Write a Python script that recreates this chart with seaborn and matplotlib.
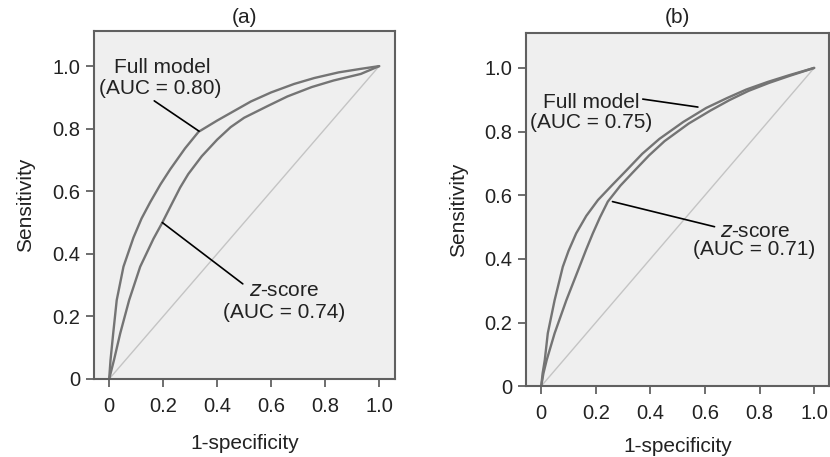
import numpy as np
import pandas as pd
import matplotlib
matplotlib.use("Agg")
import matplotlib.pyplot as plt
import seaborn as sns

sns.set_theme(style="white")
plt.rcParams['font.family'] = ['Liberation Sans', 'DejaVu Sans']

# Panel (a)
a_full_x = [0, 0.005, 0.015, 0.028, 0.053, 0.09, 0.12, 0.152, 0.19, 0.226, 0.281, 0.331,
            0.4, 0.525, 0.6, 0.685, 0.76, 0.85, 0.93, 1.0]
a_full_y = [0, 0.06, 0.146, 0.252, 0.359, 0.452, 0.513, 0.565, 0.622, 0.67, 0.737, 0.79,
            0.826, 0.887, 0.916, 0.943, 0.962, 0.98, 0.991, 1.0]
a_z_x = [0, 0.018, 0.041, 0.074, 0.115, 0.164, 0.197, 0.231, 0.263, 0.293, 0.343,
         0.4, 0.45, 0.5, 0.586, 0.66, 0.75, 0.831, 0.932, 1.0]
a_z_y = [0, 0.061, 0.146, 0.252, 0.359, 0.448, 0.50, 0.558, 0.612, 0.655, 0.712,
         0.765, 0.805, 0.835, 0.872, 0.903, 0.933, 0.954, 0.975, 1.0]

# Panel (b)
b_full_x = [0, 0.005, 0.013, 0.024, 0.049, 0.079, 0.1, 0.128, 0.165, 0.208, 0.26, 0.311,
            0.37, 0.433, 0.52, 0.604, 0.68, 0.751, 0.83, 0.908, 1.0]
b_full_y = [0, 0.04, 0.082, 0.166, 0.27, 0.375, 0.425, 0.48, 0.535, 0.585, 0.632, 0.677,
            0.73, 0.777, 0.83, 0.874, 0.905, 0.932, 0.956, 0.977, 1.0]
b_z_x = [0, 0.008, 0.02, 0.049, 0.092, 0.14, 0.165, 0.189, 0.215, 0.244, 0.29, 0.336,
         0.395, 0.452, 0.54, 0.62, 0.69, 0.76, 0.835, 0.91, 1.0]
b_z_y = [0, 0.04, 0.082, 0.166, 0.27, 0.375, 0.43, 0.48, 0.53, 0.58, 0.63, 0.672,
         0.725, 0.77, 0.825, 0.866, 0.899, 0.928, 0.953, 0.975, 1.0]

ticks = [0, 0.2, 0.4, 0.6, 0.8, 1.0]
tick_labels = ["0", "0.2", "0.4", "0.6", "0.8", "1.0"]

fig = plt.figure(figsize=(8.3, 4.57), dpi=100)
axA = fig.add_axes([0.1133, 0.1707, 0.3627, 0.7613])
axB = fig.add_axes([0.634, 0.155, 0.365, 0.773])

curve_color = "#747474"
diag_color = "#c4c4c4"


def draw(ax, fx, fy, zx, zy, title, xlim, ylim, xpad, tpad):
    ax.set_facecolor("#efefef")
    df_d = pd.DataFrame({"x": [0, 1], "y": [0, 1]})
    sns.lineplot(data=df_d, x="x", y="y", ax=ax, color=diag_color, lw=1.0,
                 sort=False, estimator=None)
    df_f = pd.DataFrame({"x": fx, "y": fy})
    df_z = pd.DataFrame({"x": zx, "y": zy})
    for d in (df_f, df_z):
        sns.lineplot(data=d, x="x", y="y", ax=ax, color=curve_color, lw=1.7,
                     sort=False, estimator=None, solid_joinstyle="round")
    ax.set_xlim(*xlim)
    ax.set_ylim(*ylim)
    ax.set_xticks(ticks)
    ax.set_xticklabels(tick_labels)
    ax.set_yticks(ticks)
    ax.set_yticklabels(tick_labels)
    ax.tick_params(axis="both", direction="out", length=6, width=1.2,
                   color="#555555", labelsize=14.5, pad=4, bottom=True, left=True,
                   labelcolor="#222222")
    ax.tick_params(axis="x", pad=7)
    for s in ax.spines.values():
        s.set_color("#606060")
        s.set_linewidth(1.5)
        s.set_visible(True)
    ax.set_xlabel("1-specificity", fontsize=15, labelpad=xpad, color="#222222")
    ax.set_ylabel("Sensitivity", fontsize=15, labelpad=12, color="#222222")
    ax.set_title(title, fontsize=15, pad=tpad, color="#222222")


draw(axA, a_full_x, a_full_y, a_z_x, a_z_y, "(a)", (-0.056, 1.059), (0, 1.112), 13, 6)
draw(axB, b_full_x, b_full_y, b_z_x, b_z_y, "(b)", (-0.055, 1.055), (0, 1.11), 10, 7)

fs = 15
tc = "#222222"
# Panel (a) annotations
axA.text(0.196, 0.994, "Full model", ha="center", va="center", fontsize=fs, color=tc)
axA.text(0.189, 0.928, "(AUC = 0.80)", ha="center", va="center", fontsize=fs, color=tc)
axA.plot([0.167, 0.333], [0.889, 0.792], color="black", lw=1.2)
axA.text(0.648, 0.284, r"$\it{z}$-score", ha="center", va="center", fontsize=fs, color=tc)
axA.text(0.648, 0.214, "(AUC = 0.74)", ha="center", va="center", fontsize=fs, color=tc)
axA.plot([0.495, 0.197], [0.304, 0.50], color="black", lw=1.2)

# Panel (b) annotations
axB.text(0.183, 0.89, "Full model", ha="center", va="center", fontsize=fs, color=tc)
axB.text(0.183, 0.827, "(AUC = 0.75)", ha="center", va="center", fontsize=fs, color=tc)
axB.plot([0.372, 0.574], [0.902, 0.877], color="black", lw=1.2)
axB.text(0.784, 0.487, r"$\it{z}$-score", ha="center", va="center", fontsize=fs, color=tc)
axB.text(0.78, 0.428, "(AUC = 0.71)", ha="center", va="center", fontsize=fs, color=tc)
axB.plot([0.635, 0.261], [0.501, 0.58], color="black", lw=1.2)

fig.savefig("out.png", dpi=100, facecolor="white")
